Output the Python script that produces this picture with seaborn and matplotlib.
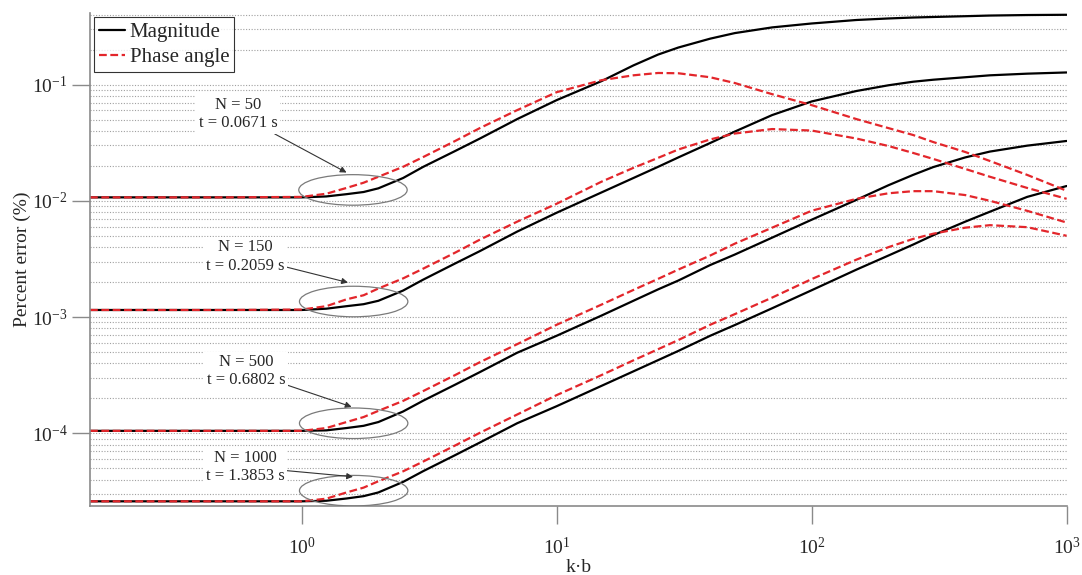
import numpy as np
import pandas as pd
import seaborn as sns
import matplotlib.pyplot as plt
from matplotlib.lines import Line2D
from matplotlib.patches import Ellipse
from matplotlib.ticker import LogLocator, NullLocator, NullFormatter

kb = [0.148, 0.5, 1, 1.25, 1.5, 1.75, 2, 2.5, 3, 4, 5, 7, 10, 15, 20, 25, 30,
      40, 50, 70, 100, 150, 200, 250, 300, 400, 500, 700, 1000]

# percent error, magnitude (solid) and phase angle (dashed)
mag_50 = [0.0107, 0.0107, 0.0107, 0.0109, 0.0114, 0.0119, 0.0128, 0.0157,
          0.0196, 0.0268, 0.0343, 0.0504, 0.0734, 0.107, 0.146, 0.181, 0.208,
          0.248, 0.277, 0.310, 0.335, 0.359, 0.370, 0.377, 0.381, 0.387,
          0.392, 0.396, 0.398]
pha_50 = [0.0107, 0.0107, 0.0108, 0.0115, 0.0129, 0.0143, 0.0161, 0.0196,
          0.0238, 0.0327, 0.0422, 0.0602, 0.0859, 0.109, 0.120, 0.1257, 0.125,
          0.1155, 0.103, 0.0826, 0.0665, 0.0504, 0.0422, 0.0368, 0.0320,
          0.0263, 0.0220, 0.0167, 0.0122]
mag_150 = [0.00115, 0.00115, 0.00115, 0.00118, 0.00124, 0.00129, 0.00138,
           0.00169, 0.00210, 0.00289, 0.00369, 0.00543, 0.00789, 0.0118,
           0.0157, 0.0196, 0.0236, 0.0314, 0.0394, 0.0546, 0.0715, 0.0880,
           0.0985, 0.1057, 0.110, 0.1155, 0.120, 0.124, 0.127]
pha_150 = [0.00115, 0.00115, 0.00116, 0.00124, 0.00142, 0.00154, 0.00176,
           0.00215, 0.00261, 0.00358, 0.00463, 0.00661, 0.00943, 0.0146,
           0.0192, 0.0234, 0.0276, 0.0337, 0.0379, 0.0414, 0.0402, 0.0343,
           0.0296, 0.0258, 0.0229, 0.0188, 0.0161, 0.0129, 0.0104]
mag_500 = [1.05e-4, 1.05e-4, 1.05e-4, 1.06e-4, 1.11e-4, 1.16e-4, 1.25e-4,
           1.54e-4, 1.91e-4, 2.62e-4, 3.36e-4, 4.93e-4, 6.90e-4, 1.03e-3,
           1.38e-3, 1.73e-3, 2.06e-3, 2.80e-3, 3.45e-3, 4.82e-3, 6.87e-3,
           0.0102, 0.0136, 0.0167, 0.0195, 0.0236, 0.0265, 0.0298, 0.0327]
pha_500 = [1.05e-4, 1.05e-4, 1.05e-4, 1.11e-4, 1.25e-4, 1.38e-4, 1.56e-4,
           1.90e-4, 2.31e-4, 3.17e-4, 4.09e-4, 5.84e-4, 8.58e-4, 1.28e-3,
           1.71e-3, 2.13e-3, 2.56e-3, 3.38e-3, 4.28e-3, 5.87e-3, 8.21e-3,
           0.0104, 0.0116, 0.0121, 0.0121, 0.0112, 0.0100, 0.0082, 0.0065]
mag_1000 = [2.60e-5, 2.60e-5, 2.60e-5, 2.63e-5, 2.75e-5, 2.88e-5, 3.10e-5,
            3.82e-5, 4.73e-5, 6.49e-5, 8.33e-5, 1.22e-4, 1.71e-4, 2.56e-4,
            3.41e-4, 4.26e-4, 5.11e-4, 6.90e-4, 8.54e-4, 1.19e-3, 1.70e-3,
            2.56e-3, 3.38e-3, 4.20e-3, 5.06e-3, 6.61e-3, 8.05e-3, 0.0108,
            0.0134]
pha_1000 = [2.60e-5, 2.60e-5, 2.60e-5, 2.74e-5, 3.10e-5, 3.41e-5, 3.87e-5,
            4.71e-5, 5.72e-5, 7.86e-5, 1.01e-4, 1.45e-4, 2.13e-4, 3.17e-4,
            4.24e-4, 5.29e-4, 6.34e-4, 8.58e-4, 1.06e-3, 1.47e-3, 2.12e-3,
            3.12e-3, 3.99e-3, 4.70e-3, 5.21e-3, 5.87e-3, 6.17e-3, 5.93e-3,
            5.0e-3]

n_values = [50, 150, 500, 1000]
run_times = ["0.0671", "0.2059", "0.6802", "1.3853"]

# annotation anchors (data coords)
ell_x = [1.59, 1.60, 1.60, 1.60]
ell_y = [0.0124, 1.36e-3, 1.22e-4, 3.21e-5]
arrow_x = [1.50, 1.52, 1.57, 1.59]
arrow_y = [0.0175, 1.98e-3, 1.69e-4, 4.23e-5]
text_x = [0.563, 0.599, 0.605, 0.600]
text_y = [0.0556, 3.31e-3, 3.42e-4, 5.15e-5]

curves = {(50, "Magnitude"): mag_50, (50, "Phase angle"): pha_50,
          (150, "Magnitude"): mag_150, (150, "Phase angle"): pha_150,
          (500, "Magnitude"): mag_500, (500, "Phase angle"): pha_500,
          (1000, "Magnitude"): mag_1000, (1000, "Phase angle"): pha_1000}
rows = []
for (n, q), vals in curves.items():
    for x, y in zip(kb, vals):
        rows.append((n, q, x, y))
df = pd.DataFrame(rows, columns=["N", "quantity", "kb", "err"])

sns.set_theme(style="white")
plt.rcParams["font.family"] = ["Liberation Serif", "DejaVu Serif"]
plt.rcParams["mathtext.default"] = "regular"
plt.rcParams["axes.unicode_minus"] = False

red = "#e3262b"
fig = plt.figure(figsize=(10.82, 5.75), dpi=100)
ax = fig.add_axes([0.0832, 0.12, 0.9026, 0.8569])
ax.set_xscale("log")
ax.set_yscale("log")

sns.lineplot(data=df, x="kb", y="err", hue="quantity", style="quantity",
             units="N", estimator=None, sort=False,
             hue_order=["Magnitude", "Phase angle"],
             palette={"Magnitude": "black", "Phase angle": red},
             dashes={"Magnitude": "", "Phase angle": (3.5, 1.6)},
             linewidth=1.6, legend=False, ax=ax)

ax.set_xlim(0.148, 1000)
ax.set_ylim(2.37e-5, 0.41)

ax.yaxis.set_major_locator(LogLocator(base=10, numticks=10))
ax.yaxis.set_minor_locator(LogLocator(base=10, subs=np.arange(2, 10), numticks=20))
ax.yaxis.set_minor_formatter(NullFormatter())
ax.xaxis.set_minor_locator(NullLocator())
ax.grid(False)
ax.grid(True, which="both", axis="y", linestyle=(0, (1, 1.5)),
        linewidth=0.8, color="#a0a0a0")
ax.set_axisbelow(True)

for s in ["top", "right"]:
    ax.spines[s].set_visible(False)
for s in ["left", "bottom"]:
    ax.spines[s].set_color("#8a8a8a")
    ax.spines[s].set_linewidth(1.2)
ax.tick_params(which="major", direction="out", length=13, width=1,
               color="#8a8a8a", labelsize=14, pad=3, left=True, bottom=True)
ax.tick_params(axis="x", which="major", pad=9)
ax.tick_params(which="minor", length=0)

ax.set_xlabel("k·b", fontsize=14, labelpad=1)
ax.set_ylabel("Percent error (%)", fontsize=14, labelpad=0.5)

handles = [Line2D([], [], color="black", lw=1.6, label="Magnitude"),
           Line2D([], [], color=red, lw=1.6, dashes=(3.5, 1.6), label="Phase angle")]
leg = ax.legend(handles=handles, loc="upper left", fontsize=15,
                frameon=True, fancybox=False, borderaxespad=0.2,
                handlelength=1.25, handletextpad=0.2, borderpad=0.25,
                labelspacing=0.25)
leg.get_frame().set_edgecolor("black")
leg.get_frame().set_linewidth(0.8)

for i, n in enumerate(n_values):
    cx, cy = ax.transAxes.inverted().transform(
        ax.transData.transform((ell_x[i], ell_y[i])))
    ax.add_patch(Ellipse((cx, cy), 0.111, 0.062, transform=ax.transAxes,
                         fill=False, edgecolor="#7a7a7a", lw=0.9, zorder=5))
    ax.annotate(f"N = {n}\nt = {run_times[i]} s",
                xy=(arrow_x[i], arrow_y[i]), xytext=(text_x[i], text_y[i]),
                ha="center", va="center", fontsize=12, linespacing=1.2,
                bbox=dict(boxstyle="square,pad=0.15", fc="white", ec="none"),
                arrowprops=dict(arrowstyle="-|>", color="#333333", lw=0.8,
                                mutation_scale=9, shrinkA=0, shrinkB=0),
                zorder=6)

fig.savefig("out.png", dpi=100)
